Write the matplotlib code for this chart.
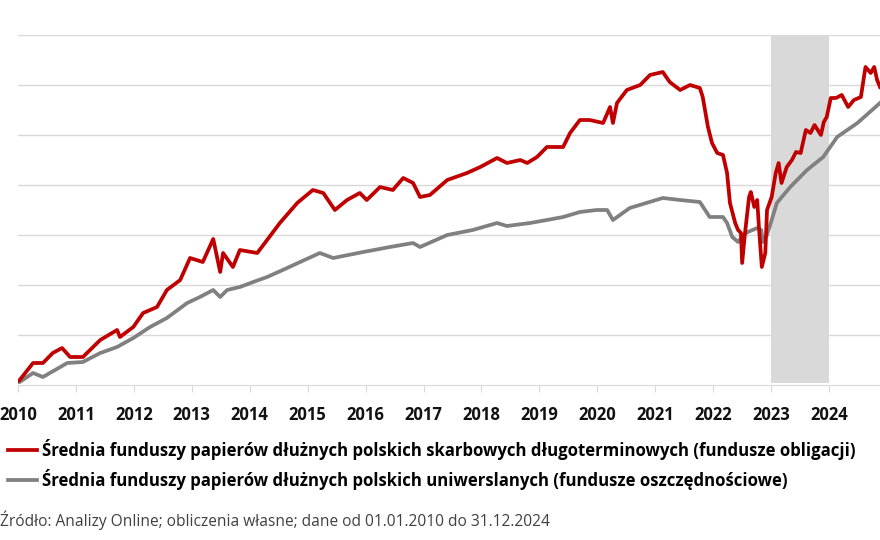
import numpy as np
import matplotlib
matplotlib.use("Agg")
import matplotlib.pyplot as plt

# values (index, start = 100), time in decimal years
red_t = [2010.00, 2010.03, 2010.26, 2010.43, 2010.60, 2010.76, 2010.90, 2011.12, 2011.42, 2011.71,
         2011.76, 2011.99, 2012.16, 2012.40, 2012.57, 2012.80, 2012.97, 2013.19, 2013.37, 2013.49,
         2013.54, 2013.71, 2013.83, 2014.13, 2014.30, 2014.52, 2014.82, 2015.09, 2015.27, 2015.47,
         2015.68, 2015.90, 2016.02, 2016.25, 2016.47, 2016.65, 2016.82, 2016.94, 2017.11, 2017.41,
         2017.75, 2017.98, 2018.27, 2018.44, 2018.67, 2018.79, 2018.96, 2019.13, 2019.41, 2019.53,
         2019.70, 2019.87, 2020.10, 2020.22, 2020.27, 2020.34, 2020.51, 2020.74, 2020.91, 2021.13,
         2021.25, 2021.43, 2021.60, 2021.77, 2021.82, 2021.91, 2021.98, 2022.07, 2022.17, 2022.24,
         2022.29, 2022.38, 2022.43, 2022.48, 2022.50, 2022.55, 2022.62, 2022.65, 2022.71, 2022.76,
         2022.79, 2022.84, 2022.90, 2022.93, 2023.01, 2023.08, 2023.13, 2023.18, 2023.27, 2023.36,
         2023.43, 2023.51, 2023.60, 2023.68, 2023.75, 2023.86, 2023.91, 2023.96, 2024.03, 2024.12,
         2024.22, 2024.33, 2024.43, 2024.55, 2024.60, 2024.63, 2024.72, 2024.78, 2024.83, 2024.88]
red_v = [100.8, 101.0, 104.4, 104.4, 106.4, 107.4, 105.6, 105.6, 109.0, 111.0,
         109.6, 111.6, 114.4, 115.6, 119.0, 121.0, 125.4, 124.6, 129.2, 122.6,
         126.4, 123.6, 127.0, 126.4, 129.0, 132.4, 136.4, 139.0, 138.4, 135.0,
         137.0, 138.4, 137.0, 139.6, 139.0, 141.4, 140.4, 137.6, 138.0, 141.0,
         142.4, 143.6, 145.4, 144.4, 145.0, 144.4, 145.6, 147.6, 147.6, 150.4,
         153.0, 153.0, 152.4, 155.6, 152.4, 156.4, 159.0, 160.0, 162.0, 162.6,
         160.6, 159.0, 160.0, 159.4, 157.6, 151.6, 148.4, 146.4, 146.0, 142.4,
         136.4, 132.4, 131.0, 130.4, 124.4, 130.4, 137.6, 138.6, 135.6, 137.0,
         131.6, 123.6, 126.4, 135.0, 137.6, 142.4, 144.4, 140.4, 143.6, 145.0,
         146.6, 146.4, 151.0, 150.4, 152.0, 150.0, 152.6, 153.6, 157.4, 157.4,
         158.0, 155.6, 157.0, 157.6, 161.4, 163.6, 162.4, 163.6, 161.0, 159.6]

gray_t = [2010.00, 2010.03, 2010.26, 2010.43, 2010.85, 2011.12, 2011.42, 2011.71, 2011.99, 2012.28,
          2012.57, 2012.92, 2013.14, 2013.37, 2013.49, 2013.61, 2013.83, 2014.06, 2014.30, 2014.57,
          2014.87, 2015.21, 2015.44, 2015.96, 2016.42, 2016.82, 2016.94, 2017.41, 2017.85, 2018.27,
          2018.44, 2018.84, 2019.13, 2019.41, 2019.70, 2019.99, 2020.17, 2020.27, 2020.56, 2021.13,
          2021.43, 2021.77, 2021.94, 2022.17, 2022.24, 2022.33, 2022.43, 2022.52, 2022.60, 2022.76,
          2022.83, 2022.86, 2022.93, 2023.10, 2023.33, 2023.62, 2023.90, 2024.14, 2024.49, 2024.88]
gray_v = [100.6, 100.6, 102.4, 101.6, 104.4, 104.6, 106.4, 107.6, 109.4, 111.6,
          113.4, 116.4, 117.6, 119.0, 117.6, 119.0, 119.6, 120.6, 121.6, 123.0,
          124.6, 126.4, 125.4, 126.6, 127.6, 128.4, 127.6, 130.0, 131.0, 132.4,
          131.8, 132.4, 133.0, 133.6, 134.6, 135.0, 135.0, 133.0, 135.4, 137.4,
          137.0, 136.6, 133.6, 133.6, 132.4, 129.6, 128.6, 130.0, 130.6, 131.4,
          131.0, 128.6, 130.0, 136.4, 139.6, 143.0, 145.6, 149.6, 152.4, 156.4]

years = list(range(2010, 2025))
label_red = "Średnia funduszy papierów dłużnych polskich skarbowych długoterminowych (fundusze obligacji)"
label_gray = "Średnia funduszy papierów dłużnych polskich uniwerslanych (fundusze oszczędnościowe)"
source = "Źródło: Analizy Online; obliczenia własne; dane od 01.01.2010 do 31.12.2024"

plt.rcParams['font.family'] = ['Open Sans', 'DejaVu Sans']

fig = plt.figure(figsize=(8.8, 5.4), dpi=100)
ax = fig.add_axes([18 / 880, 1 - 385 / 540, 1 - 18 / 880, 350 / 540])

ax.axvspan(2023, 2024, ymin=0.005, ymax=1, color='#d9d9d9', lw=0, zorder=1)
ax.plot(gray_t, gray_v, color='#808080', lw=2.7, zorder=3, label=label_gray)
ax.plot(red_t, red_v, color='#c00000', lw=2.7, zorder=4, label=label_red)

ax.set_xlim(2010, 2024.88)
ax.set_ylim(100, 170)
ax.set_yticks(np.arange(110, 171, 10))
ax.yaxis.grid(True, color='#d9d9d9', lw=1)
ax.set_axisbelow(True)
ax.tick_params(axis='y', left=False, labelleft=False)

ax.set_xticks(years)
ax.set_xticklabels([str(y) for y in years], fontsize=12, fontweight='bold', color='#111111')
ax.tick_params(axis='x', direction='out', length=5, color='#d9d9d9', pad=10)

for s in ['top', 'right', 'left']:
    ax.spines[s].set_visible(False)
ax.spines['bottom'].set_color('#d9d9d9')

h, l = ax.get_legend_handles_labels()
fig.legend(h[::-1], l[::-1], loc='upper left', bbox_to_anchor=(0.009, 1 - 439 / 540),
           frameon=False, prop={'size': 12.1, 'weight': 'bold'}, handlelength=1.75,
           handletextpad=0.25, labelspacing=0.55, borderaxespad=0, borderpad=0)

fig.text(0.0, 1 - 520 / 540, source, fontsize=11.2, color='#404040', va='center', ha='left')

fig.savefig("out.png", dpi=100)
